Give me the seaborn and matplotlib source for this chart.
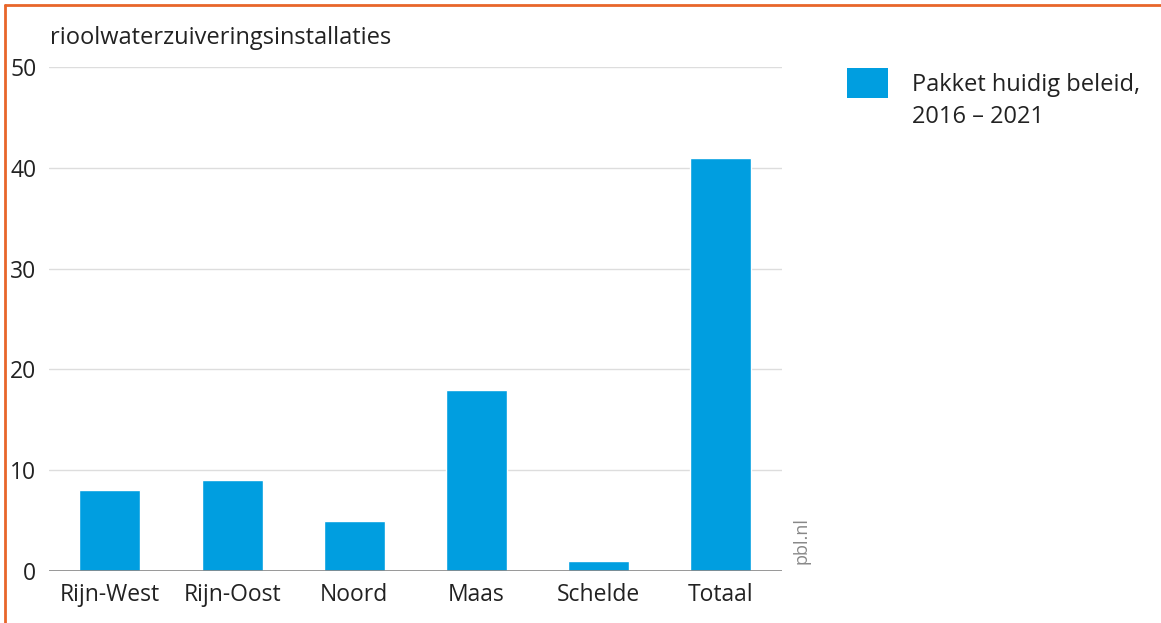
import matplotlib
matplotlib.use("Agg")
import matplotlib.pyplot as plt
import seaborn as sns
import pandas as pd
from matplotlib.patches import Rectangle
from matplotlib.lines import Line2D

# Data
regions = ["Rijn-West", "Rijn-Oost", "Noord", "Maas", "Schelde", "Totaal"]
aantal = [8, 9, 5, 18, 1, 41]
yticks = [0, 10, 20, 30, 40, 50]

df = pd.DataFrame({"Regio": regions, "Aantal": aantal})

sns.set_theme(style="white")
plt.rcParams["font.family"] = ["Open Sans", "DejaVu Sans"]

fig = plt.figure(figsize=(11.61, 6.23), dpi=100)
ax = fig.add_axes([0.042, 0.0835, 0.6316, 0.809])

blue = "#009ee0"
txt = "#222222"
sns.barplot(data=df, x="Regio", y="Aantal", color=blue, width=0.5,
            saturation=1, ax=ax, zorder=3)

ax.set_ylim(0, 50)
ax.set_xlim(-0.5, 5.5)
ax.set_yticks(yticks)
ax.set_xlabel("")
ax.set_ylabel("")
ax.yaxis.grid(True, color="#dddddd", linewidth=1, zorder=0)
ax.axhline(0, color="#888888", linewidth=1.2, zorder=4)
for s in ax.spines.values():
    s.set_visible(False)
ax.tick_params(axis="both", length=0, labelsize=16.5, colors=txt)
ax.tick_params(axis="y", pad=9)
ax.tick_params(axis="x", pad=9)

fig.text(0.043, 0.939, "rioolwaterzuiveringsinstallaties", fontsize=17,
         color=txt, va="center", ha="left")
fig.text(0.690, 0.133, "pbl.nl", rotation=90, fontsize=13, color="#888888",
         va="center", ha="center")

# legend
fig.add_artist(Rectangle((0.7295, 0.8427), 0.0353, 0.0482, facecolor=blue,
                         edgecolor="none", transform=fig.transFigure))
fig.text(0.7855, 0.8636, "Pakket huidig beleid,", fontsize=17, color=txt,
         va="center", ha="left")
fig.text(0.7855, 0.8122, "2016 – 2021", fontsize=17, color=txt,
         va="center", ha="left")

# orange frame on top and left
orange = "#e8662a"
fig.add_artist(Line2D([0.0045, 1], [0.9915, 0.9915], color=orange, linewidth=2,
                      transform=fig.transFigure))
fig.add_artist(Line2D([0.0045, 0.0045], [0, 0.9915], color=orange, linewidth=2,
                      transform=fig.transFigure))

fig.savefig("out.png", dpi=100)
